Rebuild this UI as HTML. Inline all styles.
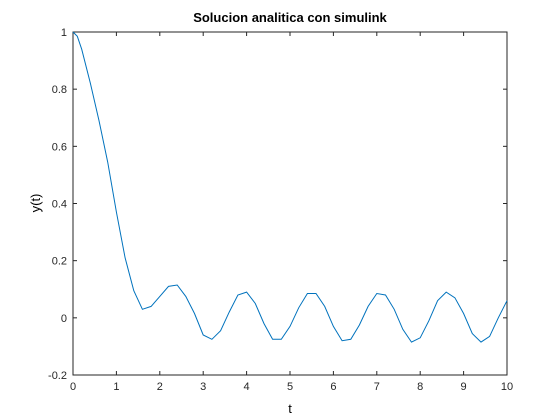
<!DOCTYPE html>
<html><head><meta charset="utf-8"><style>
body{margin:0;background:#fff;}
svg{display:block;font-family:"Liberation Sans",sans-serif;}
</style></head><body>
<svg id="chart" width="560" height="420">
<rect width="560" height="420" fill="#fff"/>
<text x="290" y="22" text-anchor="middle" font-size="13" font-weight="bold">Solucion analitica con simulink</text>
<text x="290" y="413" text-anchor="middle" font-size="13">t</text>
<text transform="translate(40,203) rotate(-90)" text-anchor="middle" font-size="13">y(t)</text>
<g id="axes"></g>
</svg>
<script>
const tVals=[0,0.1,0.2,0.4,0.6,0.8,1.0,1.2,1.4,1.6,1.8,2.0,2.2,2.4,2.6,2.8,3.0,3.2,3.4,3.6,3.8,4.0,4.2,4.4,4.6,4.8,5.0,5.2,5.4,5.6,5.8,6.0,6.2,6.4,6.6,6.8,7.0,7.2,7.4,7.6,7.8,8.0,8.2,8.4,8.6,8.8,9.0,9.2,9.4,9.6,9.8,10.0];
const yVals=[1.0,0.985,0.94,0.82,0.69,0.545,0.37,0.21,0.095,0.03,0.04,0.075,0.11,0.115,0.075,0.015,-0.06,-0.075,-0.045,0.02,0.08,0.09,0.05,-0.02,-0.075,-0.075,-0.03,0.035,0.085,0.085,0.04,-0.03,-0.08,-0.075,-0.025,0.04,0.085,0.08,0.03,-0.04,-0.085,-0.07,-0.01,0.06,0.09,0.07,0.015,-0.055,-0.085,-0.065,0.0,0.06];
const xTicks=[0,1,2,3,4,5,6,7,8,9,10];
const yTicks=[-0.2,0,0.2,0.4,0.6,0.8,1];
const yTickLabels=["-0.2","0","0.2","0.4","0.6","0.8","1"];
const L=73,R=507,T=32,B=375;
const xs=t=>L+(t-0)/(10-0)*(R-L);
const ys=v=>B-(v+0.2)/1.2*(B-T);
const NS="http://www.w3.org/2000/svg";
const g=document.getElementById('axes');
function mk(tag,attrs){const e=document.createElementNS(NS,tag);for(const k in attrs)e.setAttribute(k,attrs[k]);g.appendChild(e);return e;}
xTicks.forEach(t=>{
  const x=xs(t);
  const a=mk('line',{x1:x,x2:x,y1:B,y2:B-4,stroke:'#262626'});
  
  
  const b=mk('line',{x1:x,x2:x,y1:T,y2:T+4,stroke:'#262626'});
  
  
  const tx=mk('text',{x:x,y:B+15,'text-anchor':'middle','font-size':11,fill:'#262626'});
  tx.textContent=String(t);
  
  
});
yTicks.forEach((v,i)=>{
  const y=ys(v);
  const a=mk('line',{x1:L,x2:L+4,y1:y,y2:y,stroke:'#262626'});
  
  
  const b=mk('line',{x1:R,x2:R-4,y1:y,y2:y,stroke:'#262626'});
  
  
  const tx=mk('text',{x:L-6,y:y+4,'text-anchor':'end','font-size':11,fill:'#262626'});
  tx.textContent=yTickLabels[i];
  
  
});
const box=mk('rect',{x:L,y:T,width:R-L,height:B-T,fill:'none',stroke:'#262626'});


const pts=tVals.map((t,i)=>xs(t).toFixed(1)+','+ys(yVals[i]).toFixed(1)).join(' ');
const line=mk('polyline',{points:pts,fill:'none',stroke:'#0072BD','stroke-width':1});


</script>
</body></html>
